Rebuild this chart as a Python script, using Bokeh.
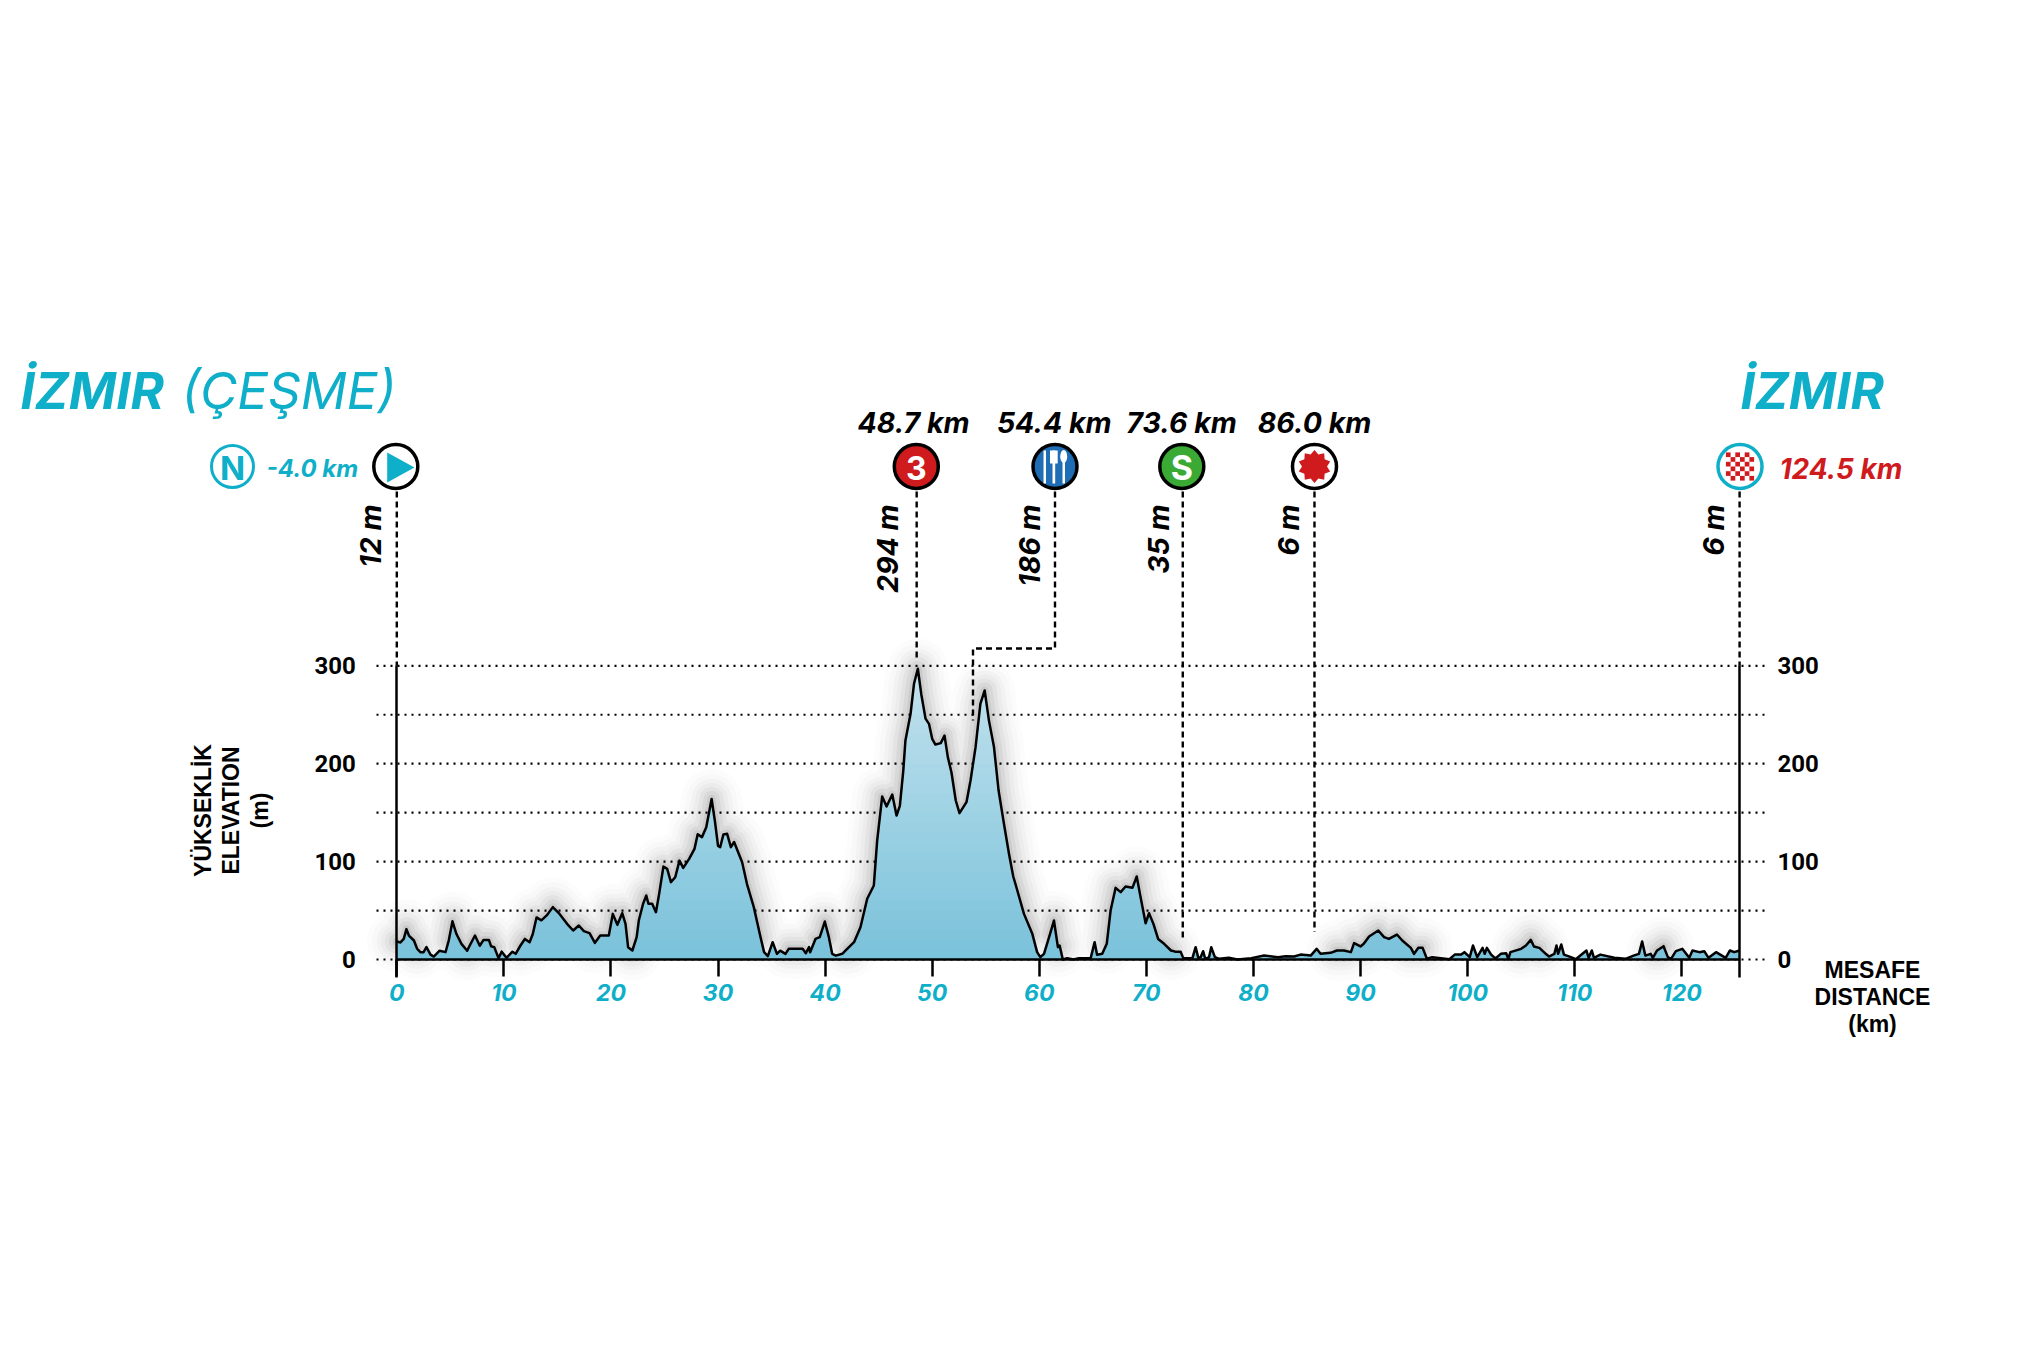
import math
import numpy as np
from bokeh.plotting import figure
from bokeh.models import Range1d, LinearAxis, FixedTicker
from bokeh.core.properties import value
from bokeh.embed import file_html
from bokeh.resources import INLINE

# ---------- data ----------
km = [0,.34,.65,.9,1.13,1.6,1.9,2.2,2.5,2.77,3.15,3.45,4,4.55,4.85,5.2,5.57,6.04,6.57,6.8,7.3,7.75,8.1,8.6,8.8,9.1,9.5,9.8,10.24,10.8,
      11.1,11.55,11.96,12.4,12.7,13.05,13.5,14,14.57,15.2,15.9,16.47,17,17.47,18,18.5,19,19.8,20.17,20.6,21.05,21.36,21.6,22,22.4,22.6,23,23.3,23.5,23.85,
      24.2,24.5,24.9,25.25,25.6,26,26.4,26.75,27.3,27.8,28.1,28.5,28.9,29.4,29.7,30,30.2,30.5,30.85,31.2,31.5,32.25,32.7,33.34,33.97,34.3,34.65,35.1,35.5,35.8,
      36.3,36.6,37.9,38.2,38.5,38.6,39.1,39.5,39.97,40.35,40.66,41,41.6,42.06,42.7,43.3,43.93,44.55,44.86,45.33,45.74,46.27,46.67,46.98,47.3,47.5,47.98,48.3,48.66,48.98,
      49.38,49.7,50,50.3,50.8,51.15,51.46,51.8,52.2,52.55,53.2,53.58,54.05,54.5,54.9,55.3,55.77,56.2,56.7,57.17,57.57,57.95,58.57,59.35,59.8,60.1,60.44,61,61.37,61.74,
      61.9,62.2,62.6,63.2,63.7,64.8,65.17,65.4,65.88,66.3,66.66,67.13,67.6,68.06,68.7,69.1,69.46,69.93,70.25,70.66,71.1,71.66,72.3,72.7,73.2,73.45,74.3,74.6,74.85,75.07,
      75.3,75.5,75.85,76.06,76.4,76.8,77.7,78.5,79.8,81,82.3,83,83.8,84.4,85.35,85.9,86.27,87.2,87.8,88.45,89.1,89.4,90,90.3,90.8,91.66,92.2,92.65,93.4,93.9,
      94.7,95,95.4,95.8,96.2,96.7,97.5,98.3,98.8,99.4,99.7,100.2,100.5,100.9,101.4,101.6,101.8,102.2,102.6,103.1,103.6,103.8,104,105,105.45,105.9,106.2,106.7,107.3,107.6,
      108.1,108.3,108.45,108.75,109,109.65,110.1,111.1,111.3,111.6,111.8,112.4,113.7,114.75,115.5,116,116.3,116.6,117.1,117.3,117.7,118.3,118.7,119,119.45,120.05,
      120.7,121,121.65,122.1,122.5,123.2,124.1,124.5,124.9,125.4]
elevation = [18.4,17.4,21,31,24.5,19.4,11,7.5,7.5,12.6,5,3,9,7.5,19.4,39,26,16,9,14,24.5,14,20,20,13.6,12.6,1.4,8,1.7,8,
      5.8,14.3,21,17.7,26,43,40,45,53.5,46.6,36.4,29.6,34.7,29,27,17,24.5,24.5,46.6,35.4,47.3,36.4,12.6,9.2,22.8,39.8,56.9,65.4,56.9,56.9,
      48.3,67,95,92.6,79,84,101,93.6,102.8,113,128,125,135,164,142,116,114.7,127.7,128.4,114.7,120,99.4,77.3,53.5,22.8,7.5,3.4,17.7,5.8,9,
      5.8,10.9,10.9,6.5,12.6,7.5,21,22.8,38.8,22.8,5.8,4,5.8,10.9,17.7,33,62,75.6,121.5,166.5,156.3,168.5,147,157,193,223.7,251,281.6,297,271,
      246,240.7,225.4,219.6,221,228.8,206.7,191,162.4,149.5,160.7,182.8,216.9,261,274.8,244,217,172.6,138.6,108,84.8,70.5,46.6,26.2,7.5,2.4,5.8,26,39.8,12.6,
      14.3,0,1.4,0,1.4,1.4,17.7,4.8,5.8,16,50,73.2,68.8,74.6,73.2,84.8,63.7,37,47.3,36.4,21,16,9.2,8,8,1.4,1.4,12.6,1.7,2.4,
      8.5,.7,2.4,12.6,2.4,.7,1.7,0,1.4,4,2.4,3.4,3,5,4,10.9,5.8,6.8,9.2,9.2,7.5,16.7,13.3,16,23.5,29.6,22.8,21,25.5,19.4,
      11.9,5.8,11.9,11.9,.7,2.4,1.4,.3,5,5,7.5,2.4,14.3,2.4,11.9,5.8,11.9,5,1,5.8,6.5,.3,7.5,10.9,14.3,20,13.3,11.9,5.8,3,
      5.8,14.3,5.8,15.3,5,2.4,.3,9.2,1.7,9.2,1.7,5,1.7,.7,4,5.8,18.4,4,5.8,1.7,9.2,13.6,2.4,.7,8.5,10.9,
      1.7,9.2,7.5,8.5,1.7,7.5,1.7,9.2,7.5,9.2]
x_ticks = [0,10,20,30,40,50,60,70,80,90,100,110,120]
y_ticks = [0,100,200,300]
grid_levels = [0,50,100,150,200,250,300]
climb_km = [0,48.55,73.4,85.7,125.4]
climb_foot_m = [300,305,22,28,300]
stop_labels = ["48.7 km","54.4 km","73.6 km","86.0 km"]
height_labels = ["12 m","294 m","186 m","35 m","6 m","6 m"]
height_km = [-2.45,45.8,59.1,71.1,83.3,123.0]
start_name, start_name2, finish_name = "İZMIR","(ÇEŞME)","İZMIR"

# ---------- scales: pixels of the page <-> km / m ----------
PX_KM, PX_M, X0, Y0 = 10.708, 0.979, 396.3, 959.0
WIDTH, HEIGHT = 2015, 1332
def X(px): return (px-X0)/PX_KM
def Y(px): return (Y0-px)/PX_M

p = figure(width=WIDTH, height=HEIGHT, output_backend="svg", toolbar_location=None,
           x_range=Range1d(X(0),X(WIDTH)), y_range=Range1d(Y(HEIGHT),Y(0)),
           x_axis_type=None, y_axis_type=None, min_border=0, outline_line_color=None,
           background_fill_color="white", border_fill_color="white")
p.grid.visible = False

END = km[-1]
CYAN, RED, INK = "#0fafc9", "#cf1a1e", "#000000"
KMS, ELE = np.array(km), np.array(elevation)

# ---------- soft shadow ----------
sh = np.where(ELE >= 9, ELE, np.nan)
for w, a in [(60,.016),(50,.02),(40,.026),(32,.032),(24,.045),(16,.06),(8,.08)]:
    p.line(KMS, sh, line_color="#333333", line_width=w, line_alpha=a, line_join="round", line_cap="round")

# ---------- dotted grid ----------
for lvl in grid_levels:
    p.line([X(376),X(1765)], [lvl,lvl], line_color=INK, line_width=2.2, line_dash="2 5")

# ---------- gradient fill (stacked bands) ----------
N = 30
c0, c1 = np.array([122,194,219]), np.array([196,227,238])
for i in range(N, 0, -1):
    lvl = 300*i/N
    c = (c0+(c1-c0)*(i-.5)/N).astype(int)
    top = np.minimum(ELE, lvl)
    p.varea(KMS, np.zeros_like(ELE), top, fill_color="#%02x%02x%02x" % tuple(c))
p.line(KMS, ELE, line_color=INK, line_width=2.5, line_join="round")

# ---------- axes ----------
xa = LinearAxis(ticker=FixedTicker(ticks=x_ticks), fixed_location=0, bounds=(0,END),
                axis_line_color=INK, axis_line_width=2.5, major_tick_line_color=INK, major_tick_line_width=2.5,
                major_tick_in=0, major_tick_out=17, minor_tick_out=0, minor_tick_in=0, major_label_standoff=7,
                major_label_text_color=CYAN, major_label_text_font="Inter",
                major_label_text_font_size="23px", major_label_text_font_style="bold italic")
p.add_layout(xa, "below")
for side, loc, off in (("left",0,35),("right",END,32)):
    ya = LinearAxis(ticker=FixedTicker(ticks=y_ticks), fixed_location=loc, bounds=(-18,300),
                    axis_line_color=INK, axis_line_width=2.5, major_tick_line_color=None, minor_tick_line_color=None,
                    major_label_standoff=off, major_label_text_color=INK, major_label_text_font="Roboto",
                    major_label_text_font_size="24px", major_label_text_font_style="bold")
    p.add_layout(ya, side)

# ---------- dashed leaders ----------
DASH = "6 4"
for k, m in zip(climb_km, climb_foot_m):
    p.line([k,k],[Y(491),m], line_color=INK, line_width=2.4, line_dash=DASH)
p.line([X(1054.5),X(1054.5),X(972.5),X(972.5)],[Y(491),Y(648),Y(648),Y(720)],
       line_color=INK, line_width=2.4, line_dash=DASH)

# ---------- badges ----------
by = Y(466)
bx = [X(395.3),X(915.8),X(1054.5),X(1181.3),X(1314),X(1739.5)]
fills = ["white",RED,"#1f6db4","#3aaa35","white","white"]
lines = [INK,INK,INK,INK,INK,CYAN]
p.scatter(bx,[by]*6,size=44,marker="circle",fill_color=fills,line_color=lines,line_width=3.5)
p.scatter([X(232)],[by],size=42,marker="circle",fill_color="white",line_color=CYAN,line_width=3)
p.patch([X(386.7),X(386.7),X(414)],[Y(452),Y(482),Y(467)],fill_color=CYAN,line_color=None)
def txt(x,y,s,font,size,color=INK,style="bold",align="center",angle=0,baseline="middle"):
    p.text([x],[y],text=[s],text_font=value(font),text_font_size=size,text_color=color,
           text_font_style=style,text_align=align,text_baseline=baseline,angle=angle)
txt(X(232),Y(467),"N","Inter","33px",CYAN)
txt(X(915.8),Y(467),"3","Inter","32px","white")
txt(X(1181.3),Y(467),"S","Inter","34px","white")
# cutlery
cx = 1054.5
p.quad(left=[X(cx-11.5)],right=[X(cx-9)],top=[Y(450)],bottom=[Y(483)],fill_color="white",line_color=None)
p.quad(left=[X(cx-2.5)],right=[X(cx+.2)],top=[Y(450)],bottom=[Y(483)],fill_color="white",line_color=None)
p.quad(left=[X(cx-5)],right=[X(cx+2.7)],top=[Y(450)],bottom=[Y(463)],fill_color="white",line_color=None)
p.quad(left=[X(cx+7.5)],right=[X(cx+10)],top=[Y(455)],bottom=[Y(483)],fill_color="white",line_color=None)
p.ellipse([X(cx+8.7)],[Y(456)],width=7/PX_KM,height=13/PX_M,fill_color="white",line_color=None)
# star burst
ang = np.linspace(0,2*math.pi,20,endpoint=False)+math.pi/2
rad = np.where(np.arange(20)%2==0,16.5,12.5)
p.patch(X(1314+rad*np.cos(ang)),Y(466-rad*np.sin(ang)),fill_color=RED,line_color=None)
# checkerboard
cell = 4.7
cols = [i for i in range(6) for j in range(6) if (i+j)%2==0]
rows = [j for i in range(6) for j in range(6) if (i+j)%2==0]
p.rect([X(1739.5+(c-2.5)*cell) for c in cols],[Y(466+(r-2.5)*cell) for r in rows],
       width=cell/PX_KM,height=cell/PX_M,fill_color=RED,line_color=None)

# ---------- texts ----------
txt(X(20),Y(390),start_name,"Inter","51px",CYAN,"bold italic","left")
txt(X(181),Y(390),start_name2,"Inter","51px",CYAN,"italic","left")
txt(X(1740),Y(390),finish_name,"Inter","51px",CYAN,"bold italic","left")
txt(X(266),Y(468),"-4.0 km","Inter","24px",CYAN,"bold italic","left")
txt(X(1779),Y(468),"124.5 km","Inter","28px",RED,"bold italic","left")
for k,s in zip([X(913),X(1053.7),X(1181),X(1314)],stop_labels):
    txt(k,Y(422),s,"Inter","28.5px",INK,"bold italic")
for k,s in zip(height_km,height_labels):
    txt(k,Y(504),s,"Inter","28.5px",INK,"bold italic","right",math.pi/2)
for i,s in enumerate(["YÜKSEKLİK","ELEVATION","(m)"]):
    txt(X(202+i*28.5),Y(810),s,"Liberation Sans","23px",INK,"bold","center",math.pi/2)
for i,s in enumerate(["MESAFE","DISTANCE","(km)"]):
    txt(X(1872),Y(969+i*27),s,"Liberation Sans","23px",INK,"bold")

open("out.html","w").write(file_html(p,INLINE))
